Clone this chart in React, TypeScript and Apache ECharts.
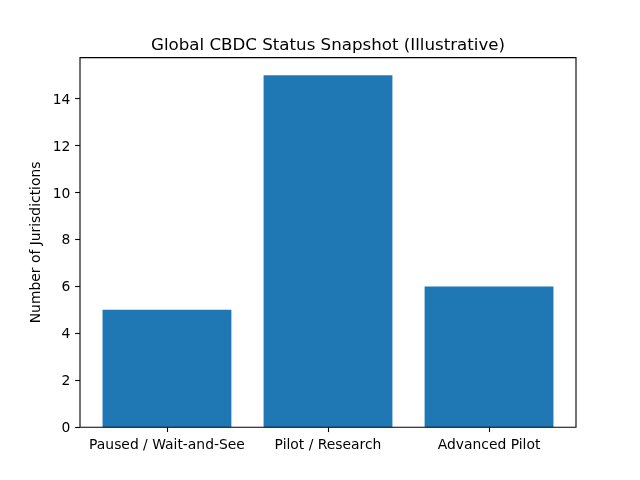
import React, { useEffect, useRef } from "react";
import * as echarts from "echarts";

const categories = ["Paused / Wait-and-See", "Pilot / Research", "Advanced Pilot"];
const values = [5, 15, 6];
const yTicks = [0, 2, 4, 6, 8, 10, 12, 14];

const FONT = "DejaVu Sans";

export default function App() {
  const ref = useRef<HTMLDivElement>(null);
  useEffect(() => {
    if (!ref.current) return;
    const chart = echarts.init(ref.current, null, { renderer: "svg" });
    // matplotlib-like geometry
    const axL = 80, axR = 576, axT = 57.6, axB = 427.2;
    const xMin = -0.54, xMax = 2.54;
    const ppu = (axR - axL) / (xMax - xMin);
    const gridLeft = axL + (-0.5 - xMin) * ppu;
    const gridRight = 640 - (axR - (xMax - 2.5) * ppu);
    const offsetL = gridLeft - axL;
    chart.setOption({
      animation: false,
      title: {
        text: "Global CBDC Status Snapshot (Illustrative)",
        left: 323,
        textAlign: "center",
        top: 31,
        textStyle: { fontFamily: FONT, fontSize: 16.67, fontWeight: "normal", color: "#000" },
      },
      grid: { left: gridLeft, right: gridRight, top: axT, bottom: 480 - axB, containLabel: false },
      xAxis: {
        type: "category",
        data: categories,
        boundaryGap: true,
        axisLine: { show: false },
        axisTick: { show: true, alignWithLabel: true, length: 4.86, lineStyle: { color: "#000", width: 1.1 } },
        axisLabel: { margin: 9.7, fontFamily: FONT, fontSize: 13.89, color: "#000", interval: 0 },
        splitLine: { show: false },
      },
      yAxis: {
        type: "value",
        min: 0,
        max: 15.75,
        interval: 2,
        offset: offsetL,
        name: "Number of Jurisdictions",
        nameLocation: "middle",
        nameRotate: 90,
        nameGap: 28,
        nameTextStyle: { fontFamily: FONT, fontSize: 13.89, color: "#000" },
        axisLine: { show: false },
        axisTick: { show: true, length: 4.86, lineStyle: { color: "#000", width: 1.1 }, customValues: yTicks },
        axisLabel: { margin: 9.7, fontFamily: FONT, fontSize: 13.89, color: "#000", customValues: yTicks },
        splitLine: { show: false },
      },
      series: [
        {
          type: "bar",
          data: values,
          barWidth: "80%",
          itemStyle: { color: "#1f77b4" },
        },
      ],
      graphic: [
        {
          type: "rect",
          shape: { x: axL, y: axT, width: axR - axL, height: axB - axT },
          style: { fill: "none", stroke: "#000", lineWidth: 1.1 },
          z: 100,
          silent: true,
        },
      ],
    });
    return () => chart.dispose();
  }, []);
  return <div ref={ref} style={{ position: "fixed", left: 0, top: 0, width: 640, height: 480 }} />;
}
